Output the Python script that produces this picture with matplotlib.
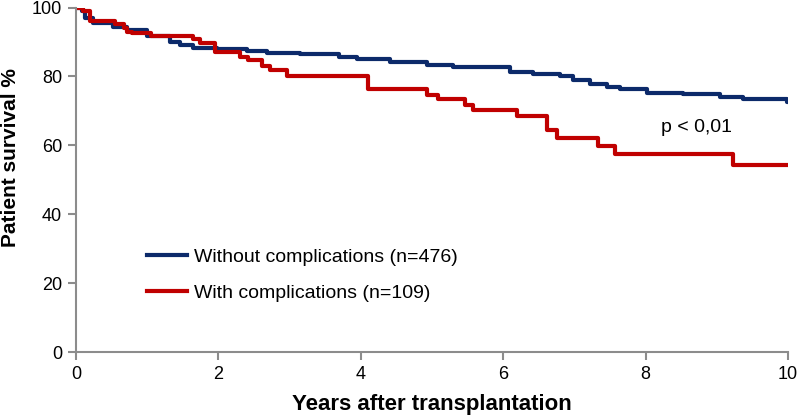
import matplotlib.pyplot as plt

plt.rcParams['font.family'] = ['Liberation Sans', 'DejaVu Sans']

# Kaplan-Meier steps (years, survival %)
years_without = [0, 0.08, 0.13, 0.24, 0.52, 0.72, 1.0, 1.32, 1.46, 1.65, 1.98, 2.4, 2.68, 3.15,
                 3.7, 3.95, 4.41, 4.93, 5.3, 6.1, 6.42, 6.8, 6.98, 7.22, 7.46, 7.64,
                 8.02, 8.53, 9.04, 9.37, 9.98, 10]
surv_without = [100, 99, 97, 95.4, 94.4, 93.5, 91.7, 90.1, 89.1, 88.2, 87.9, 87.5, 86.9, 86.5,
                85.7, 85.0, 84.3, 83.3, 82.7, 81.4, 80.7, 80.0, 79.0, 77.8, 76.9, 76.3,
                75.3, 74.9, 74.1, 73.5, 72.7, 72.7]

years_with = [0, 0.1, 0.2, 0.55, 0.68, 0.72, 0.78, 1.06, 1.65, 1.74, 1.95, 2.3, 2.42, 2.61, 2.72,
              2.96, 4.1, 4.93, 5.08, 5.46, 5.58, 6.19, 6.61, 6.75, 7.33, 7.57, 9.23, 10]
surv_with = [100, 99, 96.2, 95.2, 94, 93, 92.5, 91.8, 90.8, 89.8, 87.2, 85.7, 84.8, 83, 81.9,
             80, 76.3, 74.6, 73.4, 71.7, 70.3, 68.6, 64.5, 62.1, 59.9, 57.5, 54.3, 54.3]

label_without = 'Without complications (n=476)'
label_with = 'With complications (n=109)'

fig = plt.figure(figsize=(8, 4.18), dpi=100)
ax = fig.add_axes([0.095, 0.157, 0.89, 0.825])

ax.step(years_without, surv_without, where='post', color='#0c2a6a', lw=3, label=label_without)
ax.step(years_with, surv_with, where='post', color='#c00000', lw=3, label=label_with)

ax.set_xlim(0, 10)
ax.set_ylim(0, 100)
ax.set_xticks(range(0, 11, 2))
ax.set_yticks(range(0, 101, 20))

for s in ['top', 'right']:
    ax.spines[s].set_visible(False)
for s in ['left', 'bottom']:
    ax.spines[s].set_color('#8c8c8c')
    ax.spines[s].set_linewidth(1.5)
ax.tick_params(colors='#8c8c8c', labelcolor='black', labelsize=13, width=1.5, length=6, pad=4)

ax.set_xlabel('Years after transplantation', fontsize=16, fontweight='bold', labelpad=8)
ax.set_ylabel('Patient survival %', fontsize=15, fontweight='bold')
ax.yaxis.set_label_coords(-0.079, 0.564)

ax.text(8.72, 65.3, 'p < 0,01', fontsize=14, ha='center', va='center')

ax.legend(loc='center left', bbox_to_anchor=(0.086, 0.225), frameon=False, fontsize=14,
          borderpad=0, handlelength=2.05, handletextpad=0.36, labelspacing=0.95)

fig.savefig('out.png', dpi=100)
